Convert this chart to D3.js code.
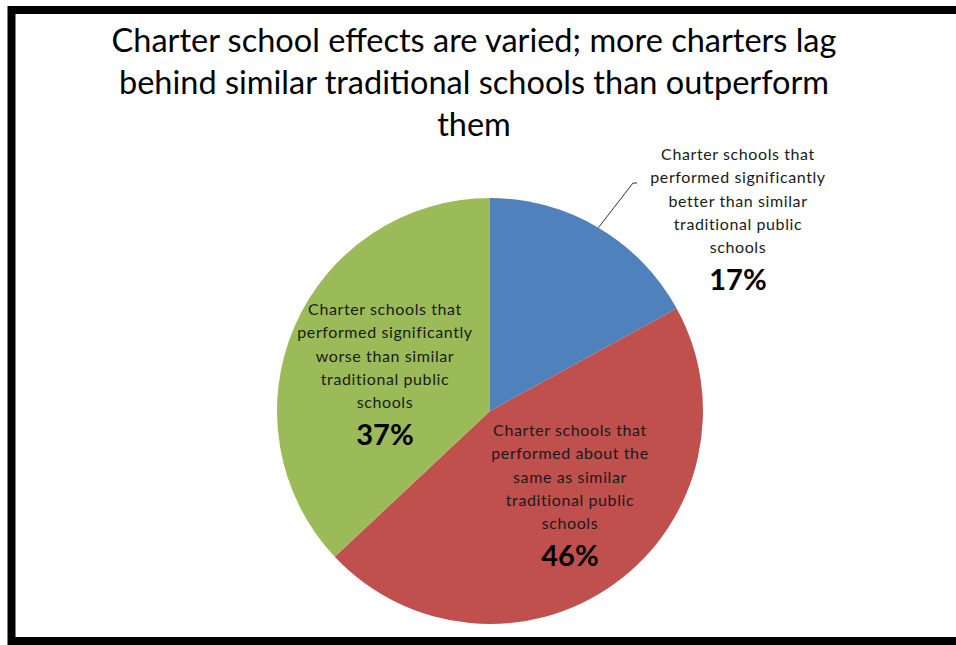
<!DOCTYPE html>
<html>
<head>
<meta charset="utf-8">
<script src="https://cdn.jsdelivr.net/npm/d3@7"></script>
<style>
  html, body { margin: 0; padding: 0; background: #fff; overflow: hidden; }
  svg { display: block; font-family: Lato, "Open Sans", sans-serif; }
</style>
</head>
<body>
<div id="chart"></div>
<script>
// Data
const categories = ["better", "same", "worse"];
const values = [17, 46, 37];
const colors = ["#4F81BD", "#C0504D", "#9BBB59"];
const labelLines = [
    ["Charter schools that", "performed significantly", "better than similar", "traditional public", "schools"],
    ["Charter schools that", "performed about the", "same as similar", "traditional public", "schools"],
    ["Charter schools that", "performed significantly", "worse than similar", "traditional public", "schools"]
];
const titleLines = [
    "Charter school effects are varied; more charters lag",
    "behind similar traditional schools than outperform",
    "them"
];

// Dimensions
const width = 956, height = 645;
const cx = 490, cy = 411, radius = 213;

const svg = d3.select("#chart")
    .append("svg")
    .attr("width", width)
    .attr("height", height);

svg.append("rect")
    .attr("width", width).attr("height", height)
    .attr("fill", "#fff");

// Outer frame: left, top and bottom only (right side is cut off)
svg.append("path")
    .attr("d", `M${width},10 H11.5 V641 H${width}`)
    .attr("fill", "none")
    .attr("stroke", "#000")
    .attr("stroke-width", 8);

// Title
svg.append("g")
    .selectAll("text")
    .data(titleLines)
    .enter()
    .append("text")
    .attr("x", 474)
    .attr("y", (d, i) => 52 + i * 42)
    .attr("text-anchor", "middle")
    .attr("font-size", 32.5)
    .attr("fill", "#000")
    .text(d => d);

// Pie
const pie = d3.pie().sort(null).value(d => d);
const arc = d3.arc().innerRadius(0).outerRadius(radius);
const arcs = pie(values);

const g = svg.append("g")
    .attr("transform", `translate(${cx},${cy})`);

g.selectAll("path")
    .data(arcs)
    .enter()
    .append("path")
    .attr("d", arc)
    .attr("fill", (d, i) => colors[i]);

// Label placement (first baseline, centre x)
const labelPos = [
    { x: 738, y: 160 },
    { x: 570, y: 436 },
    { x: 385, y: 315 }
];
const lineH = 23.3;

arcs.forEach((a, i) => {
    const lg = svg.append("g");
    const p = labelPos[i];
    labelLines[i].forEach((line, j) => {
        lg.append("text")
            .attr("x", p.x)
            .attr("y", p.y + j * lineH)
            .attr("text-anchor", "middle")
            .attr("font-size", 16)
            .attr("letter-spacing", 0.6)
            .attr("fill", "#1a1a1a")
            .text(line);
    });
    lg.append("text")
        .attr("x", p.x)
        .attr("y", p.y + (labelLines[i].length - 1) * lineH + 37)
        .attr("text-anchor", "middle")
        .attr("font-size", 29)
        .attr("font-weight", "bold")
        .attr("fill", "#000")
        .text(d3.format("d")(a.data) + "%");
});

// Leader line for the small slice label
const midA = (arcs[0].startAngle + arcs[0].endAngle) / 2;
const ex = cx + radius * Math.sin(midA), ey = cy - radius * Math.cos(midA);
svg.append("polyline")
    .attr("points", `${ex},${ey} 633,183 637,183`)
    .attr("fill", "none")
    .attr("stroke", "#333")
    .attr("stroke-width", 1);
</script>
</body>
</html>
